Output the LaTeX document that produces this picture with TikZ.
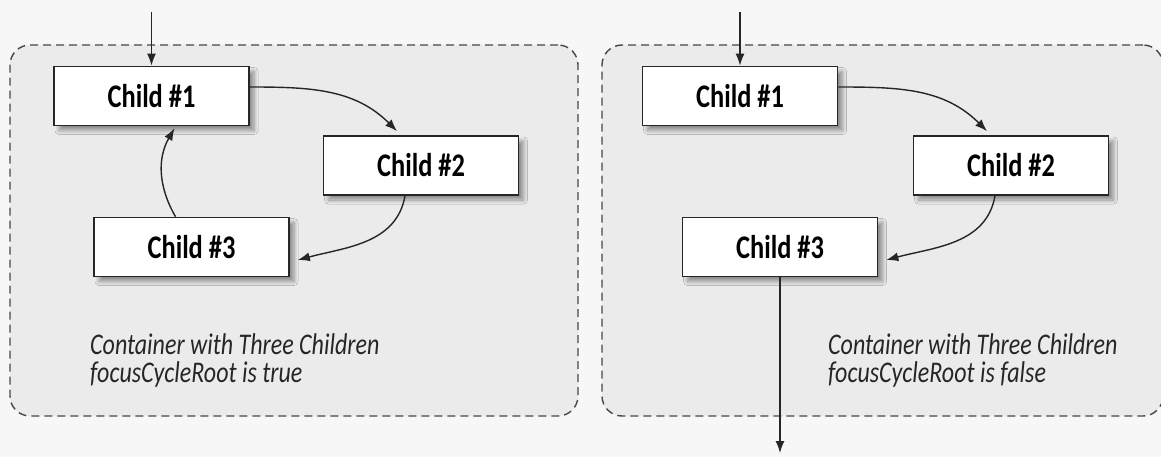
\documentclass[tikz,border=0pt]{standalone}
\usepackage{fontspec}
\setmainfont{Carlito}[FakeStretch=0.8]
\usetikzlibrary{arrows.meta, positioning, shadows.blur}

\begin{document}
\begin{tikzpicture}[
  x=1pt, y=1pt,
  frame/.style={rectangle, rounded corners=20pt, draw=black!72, fill=black!8, line width=1.4pt, dash pattern=on 8pt off 5pt, minimum height=371pt, inner sep=0pt},
  child/.style={rectangle, draw=black!85, fill=white, line width=1.7pt, minimum width=195pt, minimum height=59pt, font=\fontsize{33}{36}\selectfont\bfseries, blur shadow={shadow xshift=5pt, shadow yshift=-5pt, shadow blur steps=8, shadow blur radius=4pt, shadow opacity=40}},
  note/.style={anchor=north west, align=left, inner sep=0pt, font=\fontsize{30}{28}\selectfont\itshape, text=black!85},
  arr/.style={-{Latex[length=12pt, width=9pt]}, line width=1.4pt, draw=black!85}
]
  \useasboundingbox[fill=black!3] (0,0) rectangle (1161,-457);

  % containers
  \node[frame, minimum width=568pt] (lbox) at (294,-230.5) {};
  \node[frame, minimum width=561pt] (rbox) at (882.5,-230.5) {};

  % focusCycleRoot true
  \node[child] (l1) at (151.5,-96) {Child \#1};
  \node[child] (l2) at (421,-165.5) {Child \#2};
  \node[child] (l3) at (191.5,-247) {Child \#3};
  \coordinate (lin) at (151.5,-12);

  \draw[arr] (lin) -- (l1);
  \draw[arr] ([yshift=9pt]l1.east) to[out=0, in=135] ([xshift=-24pt, yshift=4pt]l2.north);
  \draw[arr] ([xshift=-16pt]l2.south) to[out=-100, in=15] ([xshift=8pt, yshift=-13pt]l3.east);
  \draw[arr] ([xshift=-16pt]l3.north) to[out=120, in=-120] ([xshift=23pt, yshift=-2pt]l1.south);

  \node[note] (lnote) at (90,-333) {Container with Three Children\\focusCycleRoot is true};

  % focusCycleRoot false
  \node[child] (r1) at (740,-96) {Child \#1};
  \node[child] (r2) at (1011,-165.5) {Child \#2};
  \node[child] (r3) at (780,-247) {Child \#3};
  \coordinate (rin) at (740,-12);
  \coordinate (rout) at (780,-453);

  \draw[arr] (rin) -- (r1);
  \draw[arr] ([yshift=9pt]r1.east) to[out=0, in=135] ([xshift=-24pt, yshift=4pt]r2.north);
  \draw[arr] ([xshift=-16pt]r2.south) to[out=-100, in=15] ([xshift=8pt, yshift=-13pt]r3.east);
  \draw[arr] (r3) -- (rout);

  \node[note] (rnote) at (828,-333) {Container with Three Children\\focusCycleRoot is false};
\end{tikzpicture}
\end{document}
